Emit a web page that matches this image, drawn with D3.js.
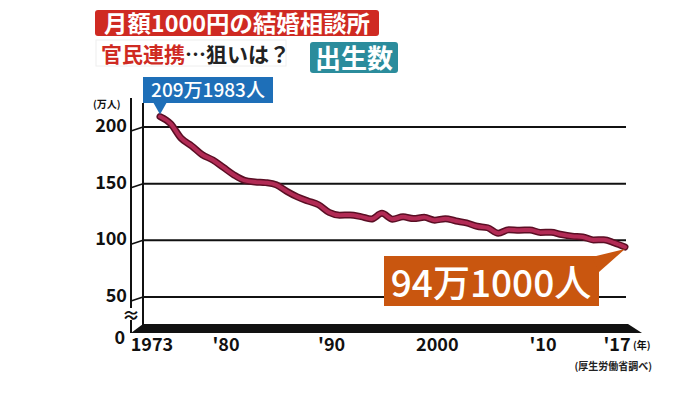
<!DOCTYPE html>
<html>
<head>
<meta charset="utf-8">
<script src="https://cdn.jsdelivr.net/npm/d3@7"></script>
<style>
  body { margin: 0; background: #fff; }
  svg { display: block; font-family: "Noto Sans CJK JP", "Noto Sans", sans-serif; }
</style>
</head>
<body>
<svg width="700" height="393"></svg>
<script>
// Births in Japan (万人), 1973-2017
var years = d3.range(1973, 2018);
var births = [209.2, 203.0, 190.1, 183.3, 175.5, 170.9, 164.3, 157.7, 152.9, 151.5,
              150.9, 149.0, 143.2, 138.3, 134.7, 131.4, 124.7, 122.2, 122.3, 120.9,
              118.8, 123.8, 118.7, 120.7, 119.2, 120.3, 117.8, 119.1, 117.1, 115.4,
              112.4, 111.1, 106.3, 109.3, 109.0, 109.1, 107.0, 107.1, 105.1, 103.7,
              103.0, 100.4, 100.6, 97.7, 94.1];
var yTicks = [50, 100, 150, 200];
var xTicks = [1973, 1980, 1990, 2000, 2010, 2017];
var xTickLabels = ["1973", "'80", "'90", "2000", "'10", "'17"];

var svg = d3.select("svg");

var x = d3.scaleLinear().domain([1973, 2017]).range([160, 625]);
var y = d3.scaleLinear().domain([50, 200]).range([297, 127]);

// Title boxes
svg.append("rect").attr("x", 95).attr("y", 10).attr("width", 284).attr("height", 26)
    .attr("rx", 3).attr("fill", "#cf2a22");
svg.append("text").attr("x", 237).attr("y", 32).attr("text-anchor", "middle")
    .attr("fill", "#fff").attr("font-size", 23).attr("font-weight", 700)
    .attr("textLength", 266).attr("lengthAdjust", "spacingAndGlyphs")
    .text("月額1000円の結婚相談所");

svg.append("rect").attr("x", 96).attr("y", 40).attr("width", 190).attr("height", 26)
    .attr("fill", "#fff").attr("stroke", "#eee");
var sub = svg.append("text").attr("x", 101).attr("y", 62)
    .attr("font-size", 21).attr("font-weight", 700);
sub.append("tspan").attr("fill", "#cf2a22").text("官民連携");
sub.append("tspan").attr("fill", "#222").text("…狙いは？");

svg.append("rect").attr("x", 310).attr("y", 42).attr("width", 88).attr("height", 31)
    .attr("rx", 3).attr("fill", "#2b8c9c");
svg.append("text").attr("x", 354).attr("y", 68).attr("text-anchor", "middle")
    .attr("fill", "#fff").attr("font-size", 26).attr("font-weight", 700)
    .text("出生数");

// Floor of the chart
svg.append("polygon")
    .attr("points", [[143, 324], [628, 324], [642, 333], [131, 333]].join(" "))
    .attr("fill", "#111");

// Axis lines
svg.append("line").attr("x1", 131).attr("x2", 131).attr("y1", 98).attr("y2", 333)
    .attr("stroke", "#111").attr("stroke-width", 2);
svg.append("line").attr("x1", 143).attr("x2", 143).attr("y1", 103).attr("y2", 325)
    .attr("stroke", "#111").attr("stroke-width", 2);

// Grid lines and tick connectors
svg.selectAll(".grid").data(yTicks).enter().append("line")
    .attr("x1", 143).attr("x2", 626)
    .attr("y1", function(d) { return y(d); })
    .attr("y2", function(d) { return y(d); })
    .attr("stroke", "#111").attr("stroke-width", 2);
svg.selectAll(".tick").data(yTicks).enter().append("line")
    .attr("x1", 131).attr("x2", 143)
    .attr("y1", function(d) { return y(d) + 4; })
    .attr("y2", function(d) { return y(d); })
    .attr("stroke", "#111").attr("stroke-width", 1.5);

// Y labels
svg.selectAll(".ylab").data(yTicks).enter().append("text")
    .attr("x", 127).attr("y", function(d) { return y(d) + 5; })
    .attr("text-anchor", "end").attr("font-size", 18).attr("font-weight", 700)
    .attr("fill", "#111").text(function(d) { return d; });
svg.append("text").attr("x", 125).attr("y", 344).attr("text-anchor", "end")
    .attr("font-size", 18).attr("font-weight", 700).attr("fill", "#111").text("0");
svg.append("text").attr("x", 93).attr("y", 108).attr("font-size", 10)
    .attr("font-weight", 700).attr("fill", "#111").text("(万人)");

// Axis break mark
svg.append("rect").attr("x", 125).attr("y", 308).attr("width", 12).attr("height", 12)
    .attr("fill", "#fff");
svg.append("text").attr("x", 131).attr("y", 322).attr("text-anchor", "middle")
    .attr("font-size", 18).attr("font-weight", 700).attr("fill", "#111").text("≈");

// X labels
svg.selectAll(".xlab").data(xTicks).enter().append("text")
    .attr("x", function(d) { return x(d) - 8; })
    .attr("y", 351).attr("text-anchor", "middle").attr("font-size", 18)
    .attr("font-weight", 700).attr("fill", "#111")
    .text(function(d, i) { return xTickLabels[i]; });
svg.append("text").attr("x", 633).attr("y", 349).attr("font-size", 10)
    .attr("font-weight", 700).attr("fill", "#111").text("(年)");
svg.append("text").attr("x", 652).attr("y", 370).attr("text-anchor", "end")
    .attr("font-size", 10).attr("font-weight", 700).attr("fill", "#222")
    .text("(厚生労働省調べ)");

// Births line
var line = d3.line()
    .x(function(d, i) { return x(years[i]); })
    .y(function(d) { return y(d); })
    .curve(d3.curveMonotoneX);
svg.append("path").datum(births).attr("d", line).attr("fill", "none")
    .attr("stroke", "#5a0e24").attr("stroke-width", 7).attr("stroke-linecap", "round")
    .attr("stroke-linejoin", "round");
svg.append("path").datum(births).attr("d", line).attr("fill", "none")
    .attr("stroke", "#b22b55").attr("stroke-width", 4).attr("stroke-linecap", "round")
    .attr("stroke-linejoin", "round");

// Start callout
var sx = x(years[0]), sy = y(births[0]);
svg.append("rect").attr("x", 143).attr("y", 77).attr("width", 130).attr("height", 26)
    .attr("fill", "#1e6fb8");
svg.append("polygon")
    .attr("points", [[sx - 7, 102], [sx + 7, 102], [sx, sy - 2]].join(" "))
    .attr("fill", "#1e6fb8");
svg.append("text").attr("x", 208).attr("y", 97).attr("text-anchor", "middle")
    .attr("fill", "#fff").attr("font-size", 19).attr("font-weight", 500)
    .text("209万1983人");

// End callout
var n = births.length - 1;
var ex = x(years[n]), ey = y(births[n]);
svg.append("rect").attr("x", 384).attr("y", 256).attr("width", 215).attr("height", 50)
    .attr("fill", "#c9560f");
svg.append("polygon")
    .attr("points", [[592, 257], [599, 272], [ex, ey + 2]].join(" "))
    .attr("fill", "#c9560f");
svg.append("text").attr("x", 491).attr("y", 297).attr("text-anchor", "middle")
    .attr("fill", "#fff").attr("font-size", 37).attr("font-weight", 500)
    .text("94万1000人");
</script>
</body>
</html>
